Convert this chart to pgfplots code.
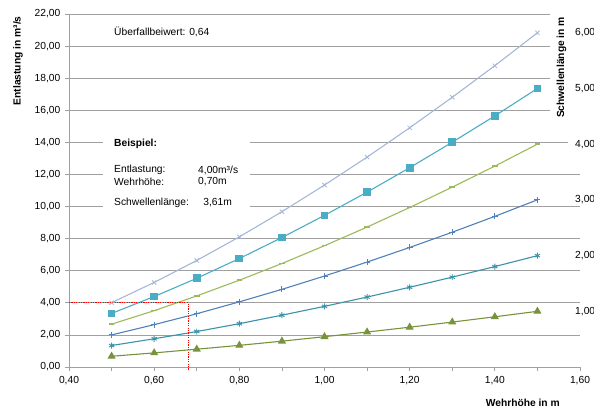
\documentclass[border=0pt]{standalone}
\usepackage{fontspec}
\setmainfont{Liberation Sans}
\usepackage{pgfplots}
\pgfplotsset{compat=1.18}

\definecolor{bsechs}{RGB}{165,183,216}
\definecolor{bfuenf}{RGB}{75,172,198}
\definecolor{bvier}{RGB}{155,187,89}
\definecolor{bdrei}{RGB}{79,129,189}
\definecolor{bzwei}{RGB}{58,147,168}
\definecolor{beins}{RGB}{119,147,60}
\definecolor{gitter}{RGB}{160,160,160}
\newcommand{\fs}{\fontsize{10.3}{12}\selectfont}
\tikzset{rlabel/.style={anchor=west, fill=white, inner xsep=7bp, inner ysep=1bp, xshift=-12bp}}

\begin{document}
\fs
\begin{tikzpicture}[x=1bp,y=1bp]
\useasboundingbox (-69,-41) rectangle (525,367);
\begin{axis}[
    at={(0,0)}, anchor=south west,
    width=511bp, height=353bp, scale only axis,
    clip=false,
    xmin=0.4, xmax=1.6,
    ymin=0, ymax=22,
    xtick={0.4,0.6,0.8,1.0,1.2,1.4,1.6},
    minor xtick={0.5,0.7,0.9,1.1,1.3,1.5},
    ytick={0,2,4,6,8,10,12,14,16,18,20,22},
    axis lines*=left,
    axis line style={gitter, line width=0.8bp},
    ymajorgrids,
    grid style={gitter, line width=0.8bp},
    tick align=outside,
    tick style={gitter, line width=0.7bp},
    major tick length=4bp, minor tick length=4bp,
    tick label style={font=\fs},
    /pgf/number format/.cd, fixed, fixed zerofill, precision=2, use comma, assume math mode=true,
    /pgfplots/.cd,
    xticklabel style={yshift=-2bp},
    yticklabel style={xshift=-1bp},
    every axis plot/.append style={line width=1.1bp},
]
% Schwellenlaenge 6 m
\addplot[bsechs, mark=x, mark size=3bp, mark options={line width=0.8bp}] coordinates {
 (0.5,4.01) (0.6,5.27) (0.7,6.64) (0.8,8.11) (0.9,9.68) (1.0,11.34)
 (1.1,13.08) (1.2,14.91) (1.3,16.81) (1.4,18.78) (1.5,20.83)};
% 5 m
\addplot[bfuenf, mark=square*, mark size=3.3bp] coordinates {
 (0.5,3.34) (0.6,4.39) (0.7,5.53) (0.8,6.76) (0.9,8.07) (1.0,9.45)
 (1.1,10.90) (1.2,12.42) (1.3,14.01) (1.4,15.65) (1.5,17.36)};
% 4 m
\addplot[bvier, mark=-, mark size=2.8bp, mark options={line width=1.4bp}] coordinates {
 (0.5,2.67) (0.6,3.51) (0.7,4.43) (0.8,5.41) (0.9,6.45) (1.0,7.56)
 (1.1,8.72) (1.2,9.94) (1.3,11.21) (1.4,12.52) (1.5,13.89)};
% 3 m
\addplot[bdrei, mark=+, mark size=3bp, mark options={line width=0.9bp}] coordinates {
 (0.5,2.00) (0.6,2.64) (0.7,3.32) (0.8,4.06) (0.9,4.84) (1.0,5.67)
 (1.1,6.54) (1.2,7.45) (1.3,8.40) (1.4,9.39) (1.5,10.42)};
% 2 m
\addplot[bzwei, mark=asterisk, mark size=3bp, mark options={line width=0.9bp}] coordinates {
 (0.5,1.34) (0.6,1.76) (0.7,2.21) (0.8,2.70) (0.9,3.23) (1.0,3.78)
 (1.1,4.36) (1.2,4.97) (1.3,5.60) (1.4,6.26) (1.5,6.94)};
% 1 m
\addplot[beins, mark=triangle*, mark size=3.6bp] coordinates {
 (0.5,0.67) (0.6,0.88) (0.7,1.11) (0.8,1.35) (0.9,1.61) (1.0,1.89)
 (1.1,2.18) (1.2,2.48) (1.3,2.80) (1.4,3.13) (1.5,3.47)};

% Beispiel-Ablesung
\addplot[red, line width=0.9bp, dash pattern=on 1.2bp off 1.2bp] coordinates {
 (0.4,4) (0.68,4) (0.68,-0.2)};

% Textfelder
\fill[white] (axis cs:0.48,9.45) rectangle (axis cs:0.825,15.25);
\fill[white] (rel axis cs:0.9413,0.70) rectangle (rel axis cs:1.04,1.02);
\node[anchor=west, inner sep=0pt] at (axis cs:0.5057,20.87) {Überfallbeiwert: 0,64};
\node[anchor=west, inner sep=0pt, font=\fs\bfseries] at (axis cs:0.5057,13.89) {Beispiel:};
\node[anchor=west, inner sep=0pt] at (axis cs:0.5057,12.27) {Entlastung:};
\node[anchor=west, inner sep=0pt] at (axis cs:0.703,12.27) {4,00m³/s};
\node[anchor=west, inner sep=0pt] at (axis cs:0.5057,11.53) {Wehrhöhe:};
\node[anchor=west, inner sep=0pt] at (axis cs:0.703,11.53) {0,70m};
\node[anchor=west, inner sep=0pt] at (axis cs:0.5057,10.22) {Schwellenlänge:};
\node[anchor=west, inner sep=0pt] at (axis cs:0.715,10.22) {3,61m};

% rechte Beschriftung
\node[rlabel] at (axis cs:1.6,20.83) {6,00};
\node[rlabel] at (axis cs:1.6,17.36) {5,00};
\node[rlabel] at (axis cs:1.6,13.89) {4,00};
\node[rlabel] at (axis cs:1.6,10.42) {3,00};
\node[rlabel] at (axis cs:1.6,6.94) {2,00};
\node[rlabel] at (axis cs:1.6,3.47) {1,00};
\node[rotate=90, anchor=east, inner sep=0pt, font=\fs\bfseries]
  at (rel axis cs:0.964,0.992) {Schwellenlänge in m};

% Achsentitel
\node[rotate=90, anchor=east, inner sep=0pt, font=\fs\bfseries]
  at (rel axis cs:-0.0998,0.994) {Entlastung in m³/s};
\node[anchor=center, inner sep=0pt, font=\fs\bfseries]
  at (rel axis cs:0.888,-0.102) {Wehrhöhe in m};
\end{axis}
\end{tikzpicture}
\end{document}
